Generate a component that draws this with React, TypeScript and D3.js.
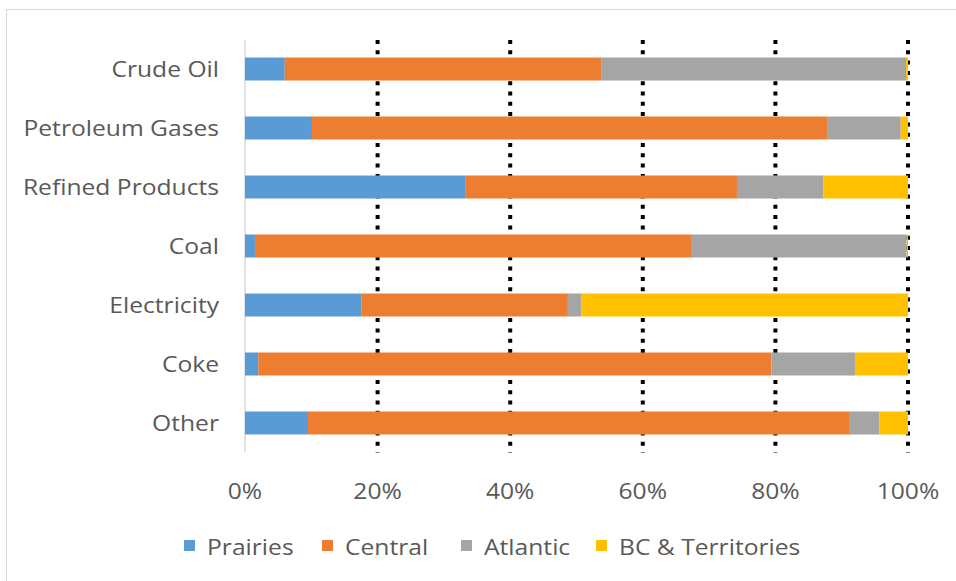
import React from "react";
import * as d3 from "d3";

const categories = ["Crude Oil", "Petroleum Gases", "Refined Products", "Coal", "Electricity", "Coke", "Other"];
const seriesNames = ["Prairies", "Central", "Atlantic", "BC & Territories"];
const prairies = [6.0, 10.1, 33.3, 1.5, 17.6, 2.0, 9.5];
const central = [47.8, 77.7, 40.9, 65.9, 31.1, 77.4, 81.6];
const atlantic = [45.9, 11.1, 13.0, 32.4, 2.0, 12.6, 4.6];
const bcTerritories = [0.3, 1.1, 12.8, 0.2, 49.3, 8.0, 4.3];
const xTicks = [0, 20, 40, 60, 80, 100];
const colors = ["#5B9BD5", "#ED7D31", "#A5A5A5", "#FFC000"];

const W = 956;
const H = 581;
const FONT = "'Open Sans', 'Noto Sans', sans-serif";
const TXT = "#595959";
const SX = 1.12;
const FS = 22;

function T({ x, y, anchor, children }: { x: number; y: number; anchor?: string; children: any }) {
  return (
    <text
      transform={`translate(${x},${y}) scale(${SX},1)`}
      dy="0.35em"
      textAnchor={anchor || "start"}
      fontSize={FS}
      fill={TXT}
    >
      {children}
    </text>
  );
}

export default function App() {
  const x = d3.scaleLinear().domain([0, 100]).range([245, 908]);
  const y = d3.scaleBand<string>().domain(categories).range([39.5, 452.5]).paddingInner(0.61).paddingOuter(0.305);

  const rows = categories.map((c, i) => ({
    cat: c,
    Prairies: prairies[i],
    Central: central[i],
    Atlantic: atlantic[i],
    "BC & Territories": bcTerritories[i],
  }));
  const stack = d3.stack<any>().keys(seriesNames).offset(d3.stackOffsetExpand);
  const layers = stack(rows);

  const legendX = [184, 322, 461, 596];

  return (
    <svg width={W} height={H} style={{ position: "absolute", left: 0, top: 0 }} fontFamily={FONT}>
      <rect x={6.5} y={9.5} width={1000} height={1000} fill="#fff" stroke="#d9d9d9" strokeWidth={1} />
      {xTicks.filter((t) => t > 0).map((t) => (
        <line key={t} x1={x(t)} x2={x(t)} y1={40} y2={452.5} stroke="#000" strokeWidth={4} strokeDasharray="4 6.3" />
      ))}
      <line x1={245} x2={245} y1={40} y2={452.5} stroke="#d9d9d9" strokeWidth={1.5} />
      {layers.map((layer, li) => (
        <g key={layer.key} fill={colors[li]}>
          {layer.map((d, i) => (
            <rect
              key={i}
              x={x(d[0] * 100)}
              width={x(d[1] * 100) - x(d[0] * 100)}
              y={y(categories[i])}
              height={y.bandwidth()}
            />
          ))}
        </g>
      ))}
      {categories.map((c) => (
        <T key={c} x={219} y={(y(c) as number) + y.bandwidth() / 2} anchor="end">
          {c}
        </T>
      ))}
      {xTicks.map((t) => (
        <T key={t} x={x(t)} y={491} anchor="middle">
          {t}%
        </T>
      ))}
      {seriesNames.map((s, i) => (
        <g key={s}>
          <rect x={legendX[i]} y={540} width={11} height={11} fill={colors[i]} />
          <T x={legendX[i] + 23} y={547}>
            {s}
          </T>
        </g>
      ))}
    </svg>
  );
}
